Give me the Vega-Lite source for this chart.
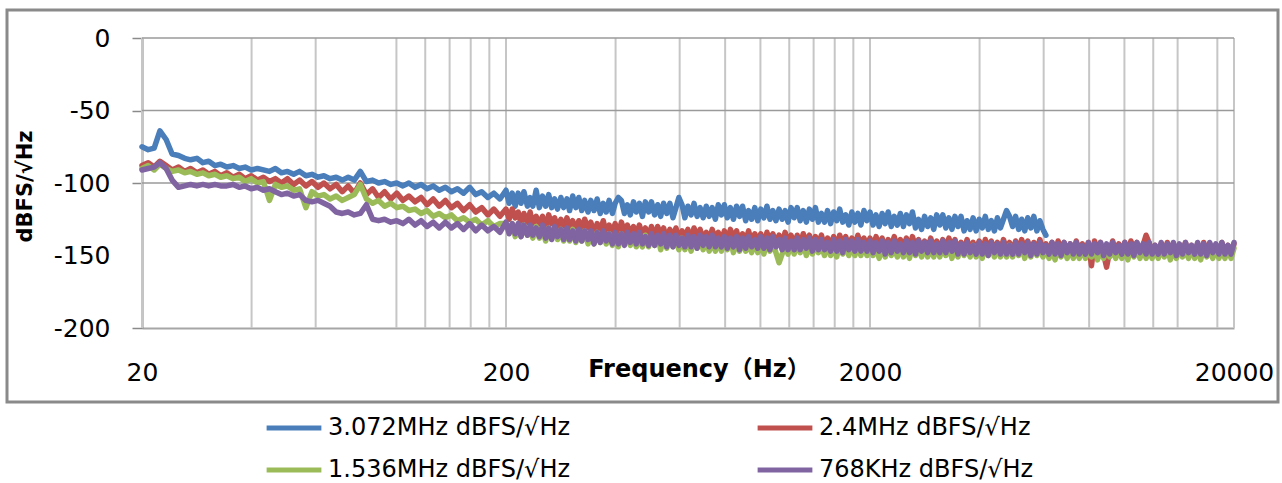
{
"$schema": "https://vega.github.io/schema/vega-lite/v6.json",
"width": 1271,
"height": 392,
"autosize": {"type": "none"},
"padding": {"left": 7, "top": 10, "right": 4, "bottom": 81},
"background": "white",
"config": {"view": {"stroke": "#8a8a8a", "strokeWidth": 3}, "font": "DejaVu Sans"},
"data": {"values": [
{"f":20,"a":-75,"b":-88,"c":-90,"d":-91},
{"f":20.8,"a":-77,"b":-86,"c":-88,"d":-90},
{"f":21.6,"a":-76,"b":-89,"c":-91,"d":-89},
{"f":22.4,"a":-64,"b":-85,"c":-87,"d":-86},
{"f":23.3,"a":-70,"b":-88,"c":-90,"d":-90},
{"f":24.2,"a":-80,"b":-91,"c":-92,"d":-98},
{"f":25.2,"a":-81,"b":-89,"c":-91,"d":-103},
{"f":26.2,"a":-83,"b":-92,"c":-93,"d":-102},
{"f":27.2,"a":-84,"b":-90,"c":-92,"d":-101},
{"f":28.3,"a":-83,"b":-93,"c":-94,"d":-102},
{"f":29.4,"a":-86,"b":-91,"c":-93,"d":-101},
{"f":30.5,"a":-85,"b":-94,"c":-95,"d":-102},
{"f":31.7,"a":-88,"b":-92,"c":-94,"d":-101},
{"f":32.9,"a":-87,"b":-95,"c":-96,"d":-102},
{"f":34.2,"a":-89,"b":-93,"c":-95,"d":-102},
{"f":35.6,"a":-88,"b":-96,"c":-97,"d":-101},
{"f":37,"a":-90,"b":-94,"c":-96,"d":-103},
{"f":38.4,"a":-89,"b":-97,"c":-99,"d":-102},
{"f":39.9,"a":-91,"b":-95,"c":-97,"d":-104},
{"f":41.5,"a":-90,"b":-98,"c":-100,"d":-103},
{"f":43.1,"a":-91,"b":-96,"c":-99,"d":-105},
{"f":44.8,"a":-92,"b":-99,"c":-112,"d":-104},
{"f":46.5,"a":-90,"b":-97,"c":-101,"d":-106},
{"f":48.3,"a":-93,"b":-100,"c":-103,"d":-108},
{"f":50.2,"a":-92,"b":-97,"c":-102,"d":-107},
{"f":52.2,"a":-94,"b":-101,"c":-105,"d":-109},
{"f":54.2,"a":-92,"b":-98,"c":-104,"d":-108},
{"f":56.4,"a":-95,"b":-102,"c":-117,"d":-112},
{"f":58.6,"a":-94,"b":-99,"c":-106,"d":-113},
{"f":60.9,"a":-96,"b":-103,"c":-109,"d":-112},
{"f":63.2,"a":-95,"b":-100,"c":-108,"d":-114},
{"f":65.7,"a":-97,"b":-104,"c":-111,"d":-116},
{"f":68.3,"a":-96,"b":-101,"c":-109,"d":-120},
{"f":71,"a":-98,"b":-106,"c":-112,"d":-121},
{"f":73.7,"a":-96,"b":-102,"c":-110,"d":-120},
{"f":76.6,"a":-98,"b":-107,"c":-108,"d":-122},
{"f":79.6,"a":-92,"b":-100,"c":-101,"d":-121},
{"f":82.7,"a":-99,"b":-108,"c":-111,"d":-115},
{"f":86,"a":-98,"b":-104,"c":-114,"d":-125},
{"f":89.3,"a":-100,"b":-110,"c":-112,"d":-126},
{"f":92.8,"a":-99,"b":-106,"c":-116,"d":-125},
{"f":96.5,"a":-101,"b":-111,"c":-114,"d":-127},
{"f":100.2,"a":-100,"b":-107,"c":-117,"d":-126},
{"f":104.2,"a":-102,"b":-112,"c":-116,"d":-128},
{"f":108.2,"a":-100,"b":-109,"c":-119,"d":-125},
{"f":112.5,"a":-103,"b":-113,"c":-118,"d":-129},
{"f":116.9,"a":-101,"b":-110,"c":-121,"d":-126},
{"f":121.4,"a":-104,"b":-115,"c":-119,"d":-130},
{"f":126.2,"a":-102,"b":-111,"c":-123,"d":-127},
{"f":131.1,"a":-105,"b":-116,"c":-121,"d":-131},
{"f":136.3,"a":-103,"b":-112,"c":-124,"d":-127},
{"f":141.6,"a":-106,"b":-117,"c":-122,"d":-131},
{"f":147.1,"a":-104,"b":-114,"c":-126,"d":-128},
{"f":152.9,"a":-107,"b":-119,"c":-124,"d":-132},
{"f":158.9,"a":-103,"b":-115,"c":-127,"d":-128},
{"f":165.1,"a":-108,"b":-120,"c":-125,"d":-133},
{"f":171.5,"a":-106,"b":-117,"c":-129,"d":-129},
{"f":178.3,"a":-110,"b":-122,"c":-126,"d":-133},
{"f":185.2,"a":-107,"b":-118,"c":-130,"d":-130},
{"f":192.5,"a":-111,"b":-123,"c":-128,"d":-134},
{"f":200,"a":-105,"b":-118,"c":-128,"d":-127},
{"f":204,"a":-114,"b":-125,"c":-134,"d":-135},
{"f":208,"a":-107,"b":-118,"c":-128,"d":-128},
{"f":212,"a":-116,"b":-124,"c":-137,"d":-135},
{"f":216,"a":-107,"b":-120,"c":-129,"d":-128},
{"f":220,"a":-114,"b":-128,"c":-137,"d":-137},
{"f":224,"a":-106,"b":-121,"c":-129,"d":-129},
{"f":229,"a":-116,"b":-127,"c":-136,"d":-136},
{"f":233,"a":-110,"b":-120,"c":-131,"d":-129},
{"f":237,"a":-116,"b":-129,"c":-138,"d":-136},
{"f":242,"a":-105,"b":-123,"c":-130,"d":-131},
{"f":247,"a":-117,"b":-128,"c":-138,"d":-137},
{"f":252,"a":-109,"b":-123,"c":-131,"d":-129},
{"f":257,"a":-116,"b":-131,"c":-140,"d":-138},
{"f":262,"a":-108,"b":-122,"c":-131,"d":-131},
{"f":267,"a":-117,"b":-128,"c":-138,"d":-139},
{"f":272,"a":-111,"b":-124,"c":-132,"d":-130},
{"f":277,"a":-118,"b":-131,"c":-139,"d":-137},
{"f":283,"a":-110,"b":-125,"c":-132,"d":-132},
{"f":288,"a":-117,"b":-131,"c":-140,"d":-139},
{"f":294,"a":-111,"b":-124,"c":-134,"d":-131},
{"f":299,"a":-119,"b":-131,"c":-140,"d":-139},
{"f":305,"a":-109,"b":-126,"c":-132,"d":-133},
{"f":311,"a":-117,"b":-133,"c":-141,"d":-140},
{"f":317,"a":-110,"b":-126,"c":-134,"d":-132},
{"f":323,"a":-119,"b":-133,"c":-140,"d":-140},
{"f":329,"a":-112,"b":-125,"c":-133,"d":-133},
{"f":336,"a":-120,"b":-131,"c":-142,"d":-139},
{"f":342,"a":-112,"b":-127,"c":-135,"d":-133},
{"f":349,"a":-119,"b":-135,"c":-142,"d":-142},
{"f":356,"a":-111,"b":-128,"c":-134,"d":-134},
{"f":363,"a":-121,"b":-133,"c":-141,"d":-141},
{"f":370,"a":-114,"b":-126,"c":-136,"d":-133},
{"f":377,"a":-120,"b":-135,"c":-142,"d":-140},
{"f":384,"a":-112,"b":-129,"c":-135,"d":-135},
{"f":392,"a":-121,"b":-134,"c":-143,"d":-142},
{"f":399,"a":-114,"b":-128,"c":-136,"d":-134},
{"f":407,"a":-110,"b":-136,"c":-144,"d":-142},
{"f":415,"a":-112,"b":-127,"c":-135,"d":-135},
{"f":423,"a":-121,"b":-134,"c":-142,"d":-143},
{"f":431,"a":-115,"b":-129,"c":-136,"d":-134},
{"f":439,"a":-122,"b":-136,"c":-143,"d":-141},
{"f":448,"a":-113,"b":-130,"c":-136,"d":-135},
{"f":456,"a":-120,"b":-136,"c":-144,"d":-142},
{"f":465,"a":-114,"b":-129,"c":-138,"d":-134},
{"f":474,"a":-123,"b":-136,"c":-144,"d":-142},
{"f":483,"a":-113,"b":-131,"c":-136,"d":-137},
{"f":493,"a":-120,"b":-138,"c":-144,"d":-143},
{"f":502,"a":-113,"b":-130,"c":-137,"d":-135},
{"f":512,"a":-122,"b":-138,"c":-143,"d":-143},
{"f":522,"a":-115,"b":-130,"c":-137,"d":-136},
{"f":532,"a":-123,"b":-136,"c":-146,"d":-142},
{"f":542,"a":-114,"b":-131,"c":-138,"d":-135},
{"f":553,"a":-121,"b":-139,"c":-145,"d":-144},
{"f":564,"a":-114,"b":-132,"c":-137,"d":-136},
{"f":575,"a":-124,"b":-138,"c":-144,"d":-144},
{"f":586,"a":-117,"b":-131,"c":-139,"d":-136},
{"f":597,"a":-110,"b":-139,"c":-146,"d":-143},
{"f":609,"a":-115,"b":-133,"c":-138,"d":-138},
{"f":620,"a":-124,"b":-138,"c":-146,"d":-144},
{"f":632,"a":-116,"b":-132,"c":-139,"d":-136},
{"f":645,"a":-122,"b":-140,"c":-147,"d":-144},
{"f":657,"a":-114,"b":-131,"c":-138,"d":-137},
{"f":670,"a":-123,"b":-137,"c":-145,"d":-145},
{"f":683,"a":-117,"b":-132,"c":-139,"d":-136},
{"f":696,"a":-124,"b":-139,"c":-146,"d":-143},
{"f":710,"a":-116,"b":-134,"c":-139,"d":-137},
{"f":723,"a":-123,"b":-140,"c":-147,"d":-144},
{"f":737,"a":-117,"b":-132,"c":-141,"d":-136},
{"f":752,"a":-125,"b":-139,"c":-147,"d":-144},
{"f":766,"a":-115,"b":-134,"c":-139,"d":-138},
{"f":781,"a":-122,"b":-141,"c":-147,"d":-144},
{"f":796,"a":-115,"b":-133,"c":-140,"d":-137},
{"f":811,"a":-124,"b":-140,"c":-146,"d":-145},
{"f":827,"a":-117,"b":-132,"c":-139,"d":-138},
{"f":843,"a":-125,"b":-138,"c":-148,"d":-144},
{"f":860,"a":-116,"b":-133,"c":-140,"d":-137},
{"f":876,"a":-123,"b":-141,"c":-147,"d":-146},
{"f":893,"a":-116,"b":-135,"c":-140,"d":-138},
{"f":911,"a":-126,"b":-140,"c":-147,"d":-145},
{"f":928,"a":-119,"b":-133,"c":-142,"d":-137},
{"f":946,"a":-125,"b":-141,"c":-148,"d":-144},
{"f":965,"a":-117,"b":-135,"c":-140,"d":-139},
{"f":983,"a":-126,"b":-140,"c":-148,"d":-145},
{"f":1002,"a":-118,"b":-135,"c":-141,"d":-137},
{"f":1022,"a":-124,"b":-143,"c":-149,"d":-145},
{"f":1042,"a":-116,"b":-134,"c":-140,"d":-138},
{"f":1062,"a":-125,"b":-140,"c":-147,"d":-146},
{"f":1082,"a":-119,"b":-135,"c":-141,"d":-137},
{"f":1103,"a":-126,"b":-142,"c":-148,"d":-144},
{"f":1125,"a":-118,"b":-136,"c":-155,"d":-139},
{"f":1147,"a":-125,"b":-142,"c":-149,"d":-146},
{"f":1169,"a":-119,"b":-134,"c":-143,"d":-138},
{"f":1191,"a":-127,"b":-141,"c":-149,"d":-146},
{"f":1214,"a":-117,"b":-136,"c":-141,"d":-140},
{"f":1238,"a":-124,"b":-143,"c":-149,"d":-146},
{"f":1262,"a":-117,"b":-136,"c":-142,"d":-138},
{"f":1286,"a":-126,"b":-143,"c":-148,"d":-146},
{"f":1311,"a":-119,"b":-135,"c":-141,"d":-139},
{"f":1337,"a":-127,"b":-141,"c":-150,"d":-145},
{"f":1363,"a":-118,"b":-136,"c":-142,"d":-138},
{"f":1389,"a":-125,"b":-144,"c":-149,"d":-147},
{"f":1416,"a":-117,"b":-137,"c":-141,"d":-139},
{"f":1443,"a":-127,"b":-142,"c":-148,"d":-146},
{"f":1471,"a":-121,"b":-136,"c":-144,"d":-139},
{"f":1500,"a":-127,"b":-144,"c":-150,"d":-146},
{"f":1529,"a":-119,"b":-138,"c":-142,"d":-141},
{"f":1559,"a":-128,"b":-143,"c":-150,"d":-147},
{"f":1589,"a":-120,"b":-137,"c":-143,"d":-139},
{"f":1620,"a":-126,"b":-145,"c":-151,"d":-147},
{"f":1651,"a":-118,"b":-136,"c":-142,"d":-140},
{"f":1683,"a":-127,"b":-142,"c":-149,"d":-148},
{"f":1715,"a":-122,"b":-137,"c":-143,"d":-139},
{"f":1749,"a":-129,"b":-144,"c":-150,"d":-146},
{"f":1783,"a":-120,"b":-138,"c":-142,"d":-140},
{"f":1817,"a":-127,"b":-144,"c":-150,"d":-147},
{"f":1852,"a":-121,"b":-136,"c":-144,"d":-139},
{"f":1888,"a":-129,"b":-143,"c":-150,"d":-147},
{"f":1925,"a":-119,"b":-138,"c":-142,"d":-141},
{"f":1962,"a":-126,"b":-145,"c":-150,"d":-147},
{"f":2000,"a":-120,"b":-138,"c":-144,"d":-140},
{"f":2039,"a":-129,"b":-145,"c":-150,"d":-148},
{"f":2078,"a":-122,"b":-137,"c":-143,"d":-141},
{"f":2119,"a":-130,"b":-143,"c":-152,"d":-147},
{"f":2160,"a":-121,"b":-138,"c":-144,"d":-140},
{"f":2202,"a":-128,"b":-146,"c":-151,"d":-149},
{"f":2244,"a":-120,"b":-139,"c":-143,"d":-141},
{"f":2288,"a":-130,"b":-144,"c":-150,"d":-148},
{"f":2332,"a":-123,"b":-137,"c":-145,"d":-140},
{"f":2377,"a":-129,"b":-145,"c":-151,"d":-147},
{"f":2423,"a":-121,"b":-139,"c":-143,"d":-142},
{"f":2470,"a":-130,"b":-144,"c":-151,"d":-148},
{"f":2518,"a":-122,"b":-138,"c":-144,"d":-140},
{"f":2567,"a":-128,"b":-146,"c":-152,"d":-148},
{"f":2616,"a":-120,"b":-137,"c":-143,"d":-141},
{"f":2667,"a":-131,"b":-144,"c":-150,"d":-149},
{"f":2719,"a":-125,"b":-139,"c":-144,"d":-140},
{"f":2772,"a":-132,"b":-146,"c":-151,"d":-147},
{"f":2825,"a":-123,"b":-140,"c":-143,"d":-141},
{"f":2880,"a":-130,"b":-146,"c":-151,"d":-148},
{"f":2936,"a":-124,"b":-138,"c":-145,"d":-140},
{"f":2993,"a":-132,"b":-145,"c":-151,"d":-148},
{"f":3050,"a":-122,"b":-140,"c":-143,"d":-142},
{"f":3110,"a":-129,"b":-147,"c":-151,"d":-148},
{"f":3170,"a":-122,"b":-139,"c":-144,"d":-140},
{"f":3231,"a":-131,"b":-146,"c":-150,"d":-148},
{"f":3294,"a":-124,"b":-138,"c":-143,"d":-141},
{"f":3358,"a":-132,"b":-144,"c":-152,"d":-147},
{"f":3423,"a":-123,"b":-139,"c":-144,"d":-140},
{"f":3489,"a":-130,"b":-147,"c":-151,"d":-149},
{"f":3557,"a":-123,"b":-141,"c":-143,"d":-142},
{"f":3626,"a":-133,"b":-146,"c":-150,"d":-149},
{"f":3696,"a":-126,"b":-139,"c":-145,"d":-141},
{"f":3768,"a":-132,"b":-147,"c":-151,"d":-148},
{"f":3840,"a":-124,"b":-141,"c":-143,"d":-143},
{"f":3915,"a":-133,"b":-146,"c":-151,"d":-149},
{"f":3991,"a":-125,"b":-140,"c":-144,"d":-141},
{"f":4068,"a":-131,"b":-148,"c":-152,"d":-149},
{"f":4147,"a":-123,"b":-139,"c":-143,"d":-142},
{"f":4227,"a":-132,"b":-145,"c":-150,"d":-150},
{"f":4309,"a":-126,"b":-140,"c":-144,"d":-141},
{"f":4393,"a":-133,"b":-147,"c":-151,"d":-148},
{"f":4477,"a":-124,"b":-141,"c":-143,"d":-142},
{"f":4565,"a":-131,"b":-147,"c":-151,"d":-149},
{"f":4653,"a":-125,"b":-139,"c":-145,"d":-141},
{"f":4743,"a":-119,"b":-146,"c":-151,"d":-149},
{"f":4834,"a":-123,"b":-141,"c":-143,"d":-143},
{"f":4929,"a":-130,"b":-148,"c":-151,"d":-149},
{"f":5024,"a":-123,"b":-140,"c":-144,"d":-141},
{"f":5122,"a":-132,"b":-147,"c":-150,"d":-149},
{"f":5220,"a":-125,"b":-139,"c":-143,"d":-142},
{"f":5322,"a":-133,"b":-145,"c":-152,"d":-148},
{"f":5425,"a":-124,"b":-140,"c":-144,"d":-141},
{"f":5530,"a":-131,"b":-148,"c":-151,"d":-150},
{"f":5637,"a":-123,"b":-141,"c":-143,"d":-142},
{"f":5747,"a":-133,"b":-146,"c":-150,"d":-149},
{"f":5857,"a":-126,"b":-139,"c":-145,"d":-141},
{"f":5972,"a":-132,"b":-147,"c":-151,"d":-148},
{"f":6086,"a":-136,"b":-142,"c":-144,"d":-143},
{"f":6205,"b":-147,"c":-152,"d":-149},
{"f":6325,"b":-141,"c":-145,"d":-141},
{"f":6448,"b":-149,"c":-153,"d":-149},
{"f":6572,"b":-140,"c":-144,"d":-142},
{"f":6700,"b":-146,"c":-151,"d":-150},
{"f":6829,"b":-141,"c":-145,"d":-141},
{"f":6962,"b":-148,"c":-152,"d":-148},
{"f":7096,"b":-142,"c":-144,"d":-142},
{"f":7235,"b":-148,"c":-152,"d":-149},
{"f":7374,"b":-140,"c":-146,"d":-141},
{"f":7518,"b":-147,"c":-152,"d":-149},
{"f":7662,"b":-142,"c":-144,"d":-143},
{"f":7812,"b":-149,"c":-152,"d":-149},
{"f":7962,"b":-141,"c":-145,"d":-141},
{"f":8118,"b":-157,"c":-151,"d":-149},
{"f":8274,"b":-140,"c":-144,"d":-142},
{"f":8435,"b":-146,"c":-153,"d":-148},
{"f":8597,"b":-141,"c":-145,"d":-141},
{"f":8765,"b":-149,"c":-152,"d":-150},
{"f":8933,"b":-158,"c":-144,"d":-142},
{"f":9108,"b":-147,"c":-151,"d":-149},
{"f":9283,"b":-140,"c":-146,"d":-141},
{"f":9464,"b":-148,"c":-152,"d":-148},
{"f":9646,"b":-142,"c":-144,"d":-143},
{"f":9835,"b":-147,"c":-152,"d":-149},
{"f":10024,"b":-141,"c":-145,"d":-141},
{"f":10220,"b":-149,"c":-153,"d":-149},
{"f":10416,"b":-140,"c":-144,"d":-142},
{"f":10620,"b":-146,"c":-151,"d":-150},
{"f":10823,"b":-141,"c":-145,"d":-141},
{"f":11035,"b":-148,"c":-152,"d":-148},
{"f":11247,"b":-143,"c":-144,"d":-142},
{"f":11467,"b":-136,"c":-152,"d":-149},
{"f":11687,"b":-141,"c":-146,"d":-141},
{"f":11915,"b":-148,"c":-152,"d":-149},
{"f":12143,"b":-143,"c":-144,"d":-143},
{"f":12381,"b":-150,"c":-152,"d":-149},
{"f":12619,"b":-142,"c":-145,"d":-141},
{"f":12866,"b":-149,"c":-151,"d":-149},
{"f":13113,"b":-141,"c":-144,"d":-142},
{"f":13369,"b":-147,"c":-153,"d":-148},
{"f":13626,"b":-142,"c":-145,"d":-141},
{"f":13892,"b":-150,"c":-152,"d":-150},
{"f":14159,"b":-143,"c":-144,"d":-142},
{"f":14436,"b":-148,"c":-151,"d":-149},
{"f":14713,"b":-141,"c":-146,"d":-141},
{"f":15001,"b":-149,"c":-152,"d":-148},
{"f":15289,"b":-143,"c":-144,"d":-143},
{"f":15588,"b":-148,"c":-152,"d":-149},
{"f":15887,"b":-142,"c":-145,"d":-141},
{"f":16198,"b":-150,"c":-153,"d":-149},
{"f":16508,"b":-141,"c":-144,"d":-142},
{"f":16832,"b":-147,"c":-151,"d":-150},
{"f":17154,"b":-142,"c":-145,"d":-141},
{"f":17490,"b":-149,"c":-152,"d":-148},
{"f":17825,"b":-143,"c":-144,"d":-142},
{"f":18175,"b":-149,"c":-152,"d":-149},
{"f":18522,"b":-141,"c":-146,"d":-141},
{"f":18886,"b":-148,"c":-152,"d":-149},
{"f":19247,"b":-143,"c":-144,"d":-143},
{"f":19626,"b":-150,"c":-152,"d":-149},
{"f":20000,"b":-142,"c":-145,"d":-141}
]},
"layer": [
{"data": {"values": [{"gx":20},{"gx":40},{"gx":60},{"gx":100},{"gx":120},{"gx":140},{"gx":160},{"gx":180},{"gx":200},{"gx":400},{"gx":600},{"gx":800},{"gx":1000},{"gx":1200},{"gx":1400},{"gx":1600},{"gx":1800},{"gx":2000},{"gx":4000},{"gx":6000},{"gx":8000},{"gx":10000},{"gx":12000},{"gx":14000},{"gx":18000},{"gx":20000}]},
 "mark": {"type": "rule", "color": "#c6c6c6", "strokeWidth": 2},
 "encoding": {
  "x": {"field": "gx", "type": "quantitative", "scale": {"type": "log", "domain": [20, 20000], "range": [135, 1227], "nice": false}},
  "y": {"datum": 0, "type": "quantitative", "scale": {"type": "linear", "domain": [-200, 0], "range": [318, 28], "nice": false, "zero": false}},
  "y2": {"datum": -200}
 }},
{"data": {"values": [{"gy":0},{"gy":-50},{"gy":-100}]},
 "mark": {"type": "rule", "color": "#9a9a9a", "strokeWidth": 1.5},
 "encoding": {
  "y": {"field": "gy", "type": "quantitative", "scale": {"type": "linear", "domain": [-200, 0], "range": [318, 28], "nice": false, "zero": false}},
  "x": {"datum": 20, "type": "quantitative", "scale": {"type": "log", "domain": [20, 20000], "range": [135, 1227], "nice": false}},
  "x2": {"datum": 20000}
 }},
{"mark": {"type": "line", "strokeWidth": 5.5, "strokeJoin": "round", "strokeCap": "round"},
 "encoding": {
  "x": {"field": "f", "type": "quantitative", "scale": {"type": "log", "domain": [20, 20000], "range": [135, 1227], "nice": false},
   "axis": {"title": "Frequency（Hz）", "values": [20, 200, 2000, 20000], "offset": -74, "ticks": false, "tickSize": 0, "grid": false, "domainColor": "#a6a6a6", "domainWidth": 2, "labelFont": "DejaVu Sans", "labelFontSize": 25, "labelColor": "#000000", "labelBaseline": "alphabetic", "labelPadding": 52, "labelFlush": false, "labelOverlap": false, "labelExpr": "'' + datum.value", "titleFont": "DejaVu Sans, Noto Sans CJK SC", "titleFontSize": 24, "titleFontWeight": "bold", "titleColor": "#000000", "titleX": 692, "titleY": 48, "titleBaseline": "alphabetic", "titleAlign": "center"}},
  "y": {"field": "a", "type": "quantitative", "scale": {"type": "linear", "domain": [-200, 0], "range": [318, 28], "nice": false, "zero": false},
   "axis": {"title": "dBFS/√Hz", "values": [0, -50, -100, -150, -200], "offset": -135, "grid": false, "ticks": true, "tickSize": 10, "tickWidth": 1.5, "tickColor": {"condition": {"test": "datum.value === -150", "value": "transparent"}, "value": "#8a8a8a"}, "domainColor": "#8a8a8a", "domainWidth": 2, "labelFont": "DejaVu Sans", "labelFontSize": 25, "labelColor": "#000000", "labelPadding": 22, "labelFlush": false, "labelOverlap": false, "labelExpr": "'' + datum.value", "titleFont": "DejaVu Sans", "titleFontSize": 21, "titleFontWeight": "bold", "titleColor": "#000000", "titleX": -111, "titleY": 176, "titleBaseline": "alphabetic", "titleAlign": "center", "titleAngle": -90}},
  "color": {"datum": "3.072MHz dBFS/√Hz", "type": "nominal",
   "scale": {"domain": ["3.072MHz dBFS/√Hz", "2.4MHz dBFS/√Hz", "1.536MHz dBFS/√Hz", "768KHz dBFS/√Hz"], "range": ["#4a7ebb", "#c0504d", "#9bbb59", "#8064a2"]},
   "legend": {"title": null, "orient": "none", "direction": "horizontal", "legendX": 257, "legendY": 388, "columns": 2, "columnPadding": 176, "rowPadding": 0, "symbolType": "stroke", "symbolStrokeWidth": 5, "symbolSize": 3000, "labelFont": "DejaVu Sans", "labelFontSize": 24, "labelColor": "#000000", "labelOffset": 4, "labelLimit": 0}}
 }},
{"mark": {"type": "line", "strokeWidth": 5.5, "strokeJoin": "round", "strokeCap": "round"},
 "encoding": {
  "x": {"field": "f", "type": "quantitative", "scale": {"type": "log", "domain": [20, 20000], "range": [135, 1227], "nice": false}},
  "y": {"field": "b", "type": "quantitative", "scale": {"type": "linear", "domain": [-200, 0], "range": [318, 28], "nice": false, "zero": false}},
  "color": {"datum": "2.4MHz dBFS/√Hz", "type": "nominal"}
 }},
{"mark": {"type": "line", "strokeWidth": 5.5, "strokeJoin": "round", "strokeCap": "round"},
 "encoding": {
  "x": {"field": "f", "type": "quantitative", "scale": {"type": "log", "domain": [20, 20000], "range": [135, 1227], "nice": false}},
  "y": {"field": "c", "type": "quantitative", "scale": {"type": "linear", "domain": [-200, 0], "range": [318, 28], "nice": false, "zero": false}},
  "color": {"datum": "1.536MHz dBFS/√Hz", "type": "nominal"}
 }},
{"mark": {"type": "line", "strokeWidth": 5.5, "strokeJoin": "round", "strokeCap": "round"},
 "encoding": {
  "x": {"field": "f", "type": "quantitative", "scale": {"type": "log", "domain": [20, 20000], "range": [135, 1227], "nice": false}},
  "y": {"field": "d", "type": "quantitative", "scale": {"type": "linear", "domain": [-200, 0], "range": [318, 28], "nice": false, "zero": false}},
  "color": {"datum": "768KHz dBFS/√Hz", "type": "nominal"}
 }}
]
}
